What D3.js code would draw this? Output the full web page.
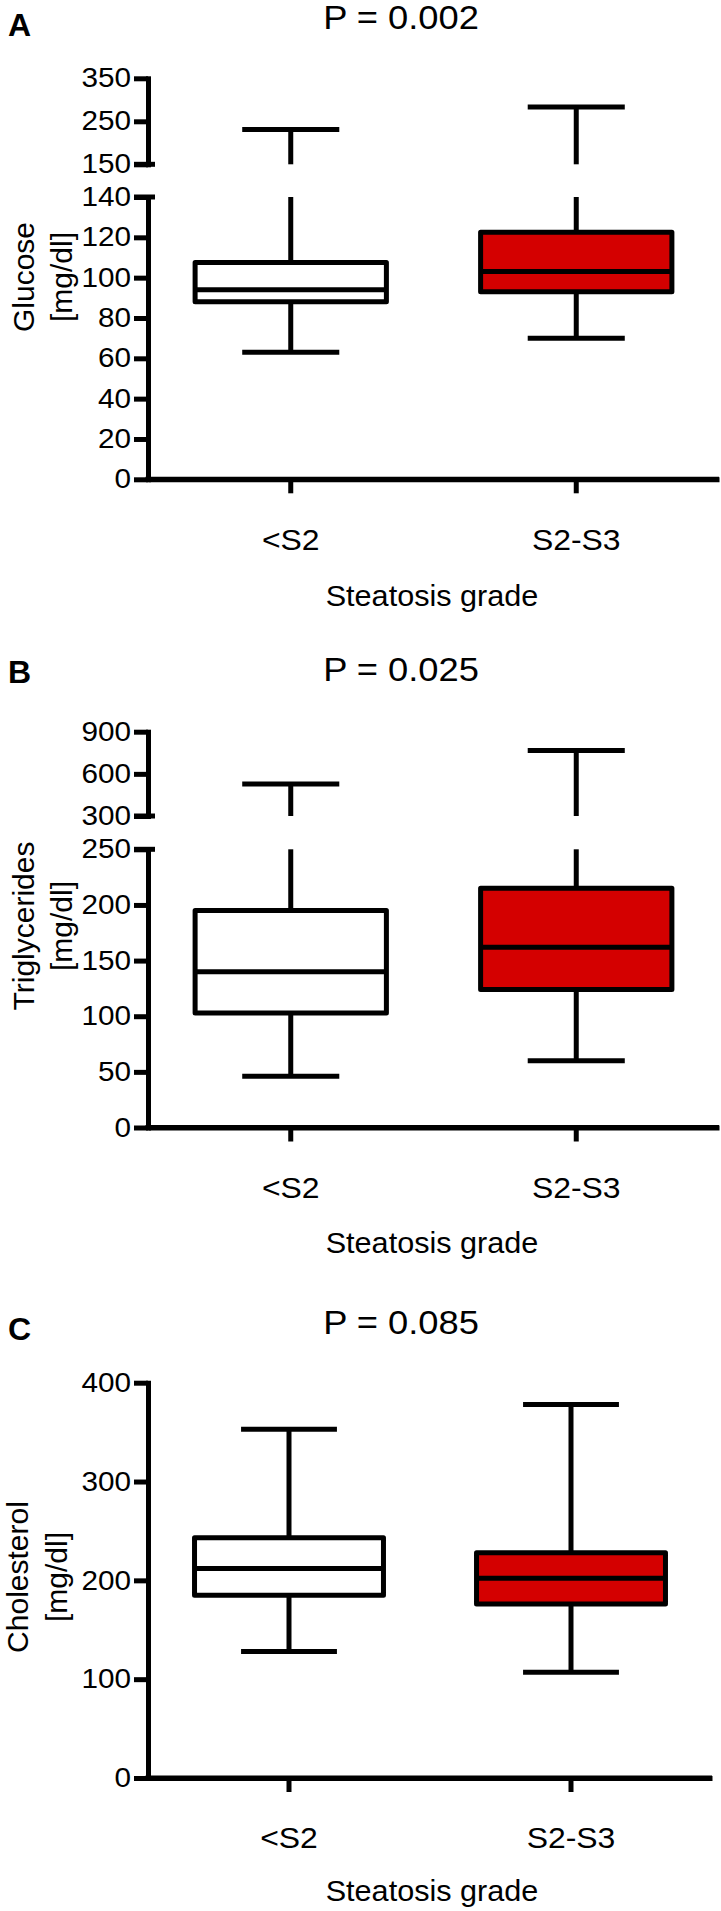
<!DOCTYPE html>
<html>
<head>
<meta charset="utf-8">
<script src="https://cdn.jsdelivr.net/npm/d3@7"></script>
<style>
  html, body { margin: 0; padding: 0; background: #ffffff; }
  svg { display: block; }
  text { font-family: "Liberation Sans", Arial, Helvetica, sans-serif; fill: #000; }
</style>
</head>
<body>
<svg id="chart" width="721" height="1911"></svg>
<script>
// ---------------- DATA ----------------
const categories = ["<S2", "S2-S3"];
const boxFills = ["#ffffff", "#d40000"];
// each group: [min, q1, median, q3, max]
const glucoseGroups = [
  [63, 88, 94, 107.5, 231],
  [70, 93, 103, 122.5, 283]
];
const triglycerideGroups = [
  [46, 103, 140, 195, 528],
  [60, 124, 162, 215, 767]
];
const cholesterolGroups = [
  [128, 185, 212, 243, 353],
  [107, 176, 202, 228, 378]
];
const glucoseTicksLower = [0, 20, 40, 60, 80, 100, 120, 140];
const glucoseTicksUpper = [150, 250, 350];
const triglycerideTicksLower = [0, 50, 100, 150, 200, 250];
const triglycerideTicksUpper = [300, 600, 900];
const cholesterolTicks = [0, 100, 200, 300, 400];
const panelLetters = ["A", "B", "C"];
const pValues = ["P = 0.002", "P = 0.025", "P = 0.085"];
const yTitles = [["Glucose", "[mg/dl]"], ["Triglycerides", "[mg/dl]"], ["Cholesterol", "[mg/dl]"]];
const xTitle = "Steatosis grade";

// ---------------- LAYOUT ----------------
const panels = [
  {
    groups: glucoseGroups,
    lower: { domain: [0, 140], range: [479.3, 197], ticks: glucoseTicksLower },
    upper: { domain: [150, 350], range: [164.3, 78.3], ticks: glucoseTicksUpper },
    letterY: 36, titleY: 29, xEnd: 719, catY: 550, xTitleY: 606,
    yTitleCenter: 277, yTitleX: [34, 72]
  },
  {
    groups: triglycerideGroups,
    lower: { domain: [0, 250], range: [1127.5, 849.3], ticks: triglycerideTicksLower },
    upper: { domain: [300, 900], range: [816, 731.7], ticks: triglycerideTicksUpper },
    letterY: 683, titleY: 681, xEnd: 719, catY: 1198, xTitleY: 1253,
    yTitleCenter: 926, yTitleX: [34, 72]
  },
  {
    groups: cholesterolGroups,
    lower: { domain: [0, 400], range: [1778, 1382.7], ticks: cholesterolTicks },
    upper: null,
    letterY: 1340, titleY: 1334, xEnd: 712, catY: 1848, xTitleY: 1901,
    yTitleCenter: 1577, yTitleX: [28, 67]
  }
];

const axisX = 148;
const LW = 5;
const tickLen = 14;
const tickPad = 3;
const breakExt = 7;
const stretch = 1.1;
const svg = d3.select("#chart");

function label(g, x, y, txt, size, anchor, sx, weight) {
  return g.append("text")
    .attr("transform", `translate(${x},${y}) scale(${sx},1)`)
    .attr("text-anchor", anchor).attr("font-size", size)
    .attr("font-weight", weight || "normal").text(txt);
}

panels.forEach((p, i) => {
  const g = svg.append("g");
  const x = d3.scaleBand().domain(categories).range([axisX, p.xEnd]).padding(0);
  const cx = d => x(d) + x.bandwidth() / 2;
  const boxW = x.bandwidth() * 0.67;
  const capW = x.bandwidth() * 0.34;

  const yL = d3.scaleLinear().domain(p.lower.domain).range(p.lower.range);
  const yU = p.upper ? d3.scaleLinear().domain(p.upper.domain).range(p.upper.range) : null;

  // panel letter + title
  label(g, 8, p.letterY, panelLetters[i], 32, "start", 1, "bold");
  label(g, 401, p.titleY, pValues[i], 33, "middle", stretch);

  // y axes
  function drawAxis(scale, ticks) {
    const ax = g.append("g").attr("transform", `translate(${axisX},0)`)
      .call(d3.axisLeft(scale).tickValues(ticks).tickSize(tickLen).tickSizeOuter(0).tickPadding(tickPad));
    ax.select(".domain").attr("stroke", "#000").attr("stroke-width", LW).attr("stroke-linecap", "square");
    ax.selectAll(".tick line").attr("stroke", "#000").attr("stroke-width", LW);
    ax.selectAll(".tick text").attr("font-size", 27)
      .attr("font-family", "Liberation Sans, Arial, sans-serif").attr("fill", "#000")
      .attr("x", 0)
      .attr("transform", `translate(${-(tickLen + tickPad)},0) scale(${stretch},1)`);
    return ax;
  }
  drawAxis(yL, p.lower.ticks);
  if (yU) {
    drawAxis(yU, p.upper.ticks);
    // break ends extend to the right of the axis
    [[yU, p.upper.domain[0]], [yL, p.lower.domain[1]]].forEach(([s, v]) => {
      g.append("line").attr("x1", axisX - tickLen).attr("x2", axisX + breakExt)
        .attr("y1", s(v)).attr("y2", s(v)).attr("stroke", "#000").attr("stroke-width", LW);
    });
  }

  // x axis
  const y0 = yL(0);
  const xa = g.append("g").attr("transform", `translate(0,${y0})`)
    .call(d3.axisBottom(x).tickSize(tickLen).tickSizeOuter(0).tickFormat(""));
  xa.select(".domain").attr("stroke", "#000").attr("stroke-width", LW);
  xa.selectAll(".tick line").attr("stroke", "#000").attr("stroke-width", LW);
  g.append("line").attr("x1", axisX - 2.5).attr("x2", p.xEnd).attr("y1", y0).attr("y2", y0)
    .attr("stroke", "#000").attr("stroke-width", LW);

  categories.forEach(c => label(g, cx(c), p.catY, c, 29, "middle", stretch));
  label(g, 432, p.xTitleY, xTitle, 30, "middle", 1.02);

  // y title (two lines, rotated)
  yTitles[i].forEach((t, k) => {
    g.append("text")
      .attr("transform", `translate(${p.yTitleX[k]},${p.yTitleCenter}) rotate(-90)`)
      .attr("text-anchor", "middle").attr("font-size", 30).text(t);
  });

  // boxes
  const yv = v => (yU && v >= p.upper.domain[0]) ? yU(v) : yL(v);
  p.groups.forEach((s, j) => {
    const xc = cx(categories[j]);
    const [mn, q1, md, q3, mx] = s;
    const line = (x1, y1, x2, y2) => g.append("line")
      .attr("x1", x1).attr("x2", x2).attr("y1", y1).attr("y2", y2)
      .attr("stroke", "#000").attr("stroke-width", LW);
    if (yU && mx > p.lower.domain[1]) {
      line(xc, yL(p.lower.domain[1]), xc, yL(q3));
      line(xc, yU(p.upper.domain[0]), xc, yU(mx));
    } else {
      line(xc, yL(mx), xc, yL(q3));
    }
    line(xc, yL(q1), xc, yL(mn));
    line(xc - capW / 2, yv(mx), xc + capW / 2, yv(mx));
    line(xc - capW / 2, yL(mn), xc + capW / 2, yL(mn));
    g.append("rect").attr("x", xc - boxW / 2).attr("y", yL(q3))
      .attr("width", boxW).attr("height", yL(q1) - yL(q3))
      .attr("fill", boxFills[j]).attr("stroke", "#000").attr("stroke-width", LW)
      .attr("stroke-linejoin", "round");
    line(xc - boxW / 2, yL(md), xc + boxW / 2, yL(md));
  });
});
</script>
</body>
</html>
